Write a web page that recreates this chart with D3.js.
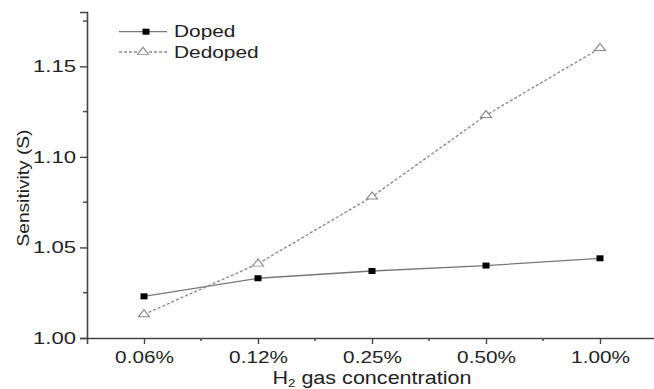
<!DOCTYPE html>
<html>
<head>
<meta charset="utf-8">
<script src="https://cdn.jsdelivr.net/npm/d3@7"></script>
<style>
  body { margin: 0; background: #fff; }
  text { font-family: "Liberation Sans", Arial, sans-serif; fill: #222; }
</style>
</head>
<body>
<div id="chart"></div>
<script>
// values
var categories = ["0.06%", "0.12%", "0.25%", "0.50%", "1.00%"];
var doped = [1.023, 1.033, 1.037, 1.040, 1.044];
var dedoped = [1.013, 1.041, 1.078, 1.123, 1.160];
var yTicks = [1.00, 1.05, 1.10, 1.15];
var yMinor = [1.025, 1.075, 1.125, 1.175];
var xMinor = [1.5, 2.5, 3.5, 4.5];

var width = 654, height = 389;
var axisColor = "#444";

var svg = d3.select("#chart").append("svg")
    .attr("width", width)
    .attr("height", height);

var x = d3.scaleLinear().domain([0.5, 5.5]).range([87, 657]);
var y = d3.scaleLinear().domain([1.00, 1.18]).range([338, 12]);

// stretch text horizontally, the original font is wider than ours
function stretch(sel, f) {
  sel.each(function() {
    var l = this.getComputedTextLength();
    d3.select(this).attr("textLength", l * f).attr("lengthAdjust", "spacingAndGlyphs");
  });
}

// y axis
var yAxis = svg.append("g")
    .attr("transform", "translate(" + x.range()[0] + ",0)")
    .call(d3.axisLeft(y).tickValues(yTicks).tickFormat(d3.format(".2f")).tickSize(7).tickPadding(4));
yAxis.append("g").selectAll("line")
    .data(yMinor)
    .join("line")
    .attr("x1", -4).attr("x2", 0)
    .attr("y1", d => y(d)).attr("y2", d => y(d));

// x axis
var xAxis = svg.append("g")
    .attr("transform", "translate(0," + y.range()[0] + ")")
    .call(d3.axisBottom(x).tickValues([1, 2, 3, 4, 5]).tickFormat(d => categories[d - 1]).tickSize(6).tickPadding(7));
xAxis.append("g").selectAll("line")
    .data(xMinor)
    .join("line")
    .attr("x1", d => x(d)).attr("x2", d => x(d))
    .attr("y1", 0).attr("y2", 3);

[yAxis, xAxis].forEach(function(g) {
  g.select(".domain").attr("stroke", axisColor).attr("stroke-width", 1.6);
  g.selectAll("line").attr("stroke", axisColor).attr("stroke-width", 1.4);
  g.selectAll("text").style("font-size", "17px").attr("fill", "#222")
    .style("font-family", '"Liberation Sans", Arial, sans-serif');
});
yAxis.selectAll(".tick text").call(stretch, 1.3);
xAxis.selectAll(".tick text").call(stretch, 1.22);

// axis titles
var xTitle = svg.append("text")
    .attr("x", 372).attr("y", 384)
    .attr("text-anchor", "middle")
    .style("font-size", "18px");
xTitle.append("tspan").text("H");
xTitle.append("tspan").attr("dy", 3).style("font-size", "11px").text("2");
xTitle.append("tspan").attr("dy", -3).text(" gas concentration");
xTitle.attr("textLength", 199).attr("lengthAdjust", "spacingAndGlyphs");

svg.append("text")
    .attr("transform", "translate(29,188) rotate(-90)")
    .attr("text-anchor", "middle")
    .style("font-size", "17px")
    .attr("textLength", 117).attr("lengthAdjust", "spacingAndGlyphs")
    .text("Sensitivity (S)");

// lines
var line = d3.line()
    .x((d, i) => x(i + 1))
    .y(d => y(d));

svg.append("path")
    .datum(doped)
    .attr("fill", "none")
    .attr("stroke", "#777")
    .attr("stroke-width", 1.3)
    .attr("d", line);

svg.append("path")
    .datum(dedoped)
    .attr("fill", "none")
    .attr("stroke", "#8c8c8c")
    .attr("stroke-width", 1.4)
    .attr("stroke-dasharray", "3,2")
    .attr("d", line);

// markers
var tri = d3.symbol().type(d3.symbolTriangle).size(40);

svg.append("g").selectAll("path")
    .data(dedoped)
    .join("path")
    .attr("transform", (d, i) => "translate(" + x(i + 1) + "," + y(d) + ") scale(1.15,0.85)")
    .attr("d", tri)
    .attr("fill", "#fff")
    .attr("stroke", "#888")
    .attr("stroke-width", 1.1);

svg.append("g").selectAll("rect")
    .data(doped)
    .join("rect")
    .attr("x", (d, i) => x(i + 1) - 3.5)
    .attr("y", d => y(d) - 3)
    .attr("width", 7)
    .attr("height", 6)
    .attr("fill", "#000");

// legend
var legend = svg.append("g");
var names = ["Doped", "Dedoped"];
var ly = [31.7, 52];

legend.append("line")
    .attr("x1", 119).attr("x2", 167).attr("y1", ly[0]).attr("y2", ly[0])
    .attr("stroke", "#777").attr("stroke-width", 1.3);
legend.append("rect")
    .attr("x", 142.5).attr("y", ly[0] - 3).attr("width", 7).attr("height", 6)
    .attr("fill", "#000");

legend.append("line")
    .attr("x1", 119).attr("x2", 167).attr("y1", ly[1]).attr("y2", ly[1])
    .attr("stroke", "#8c8c8c").attr("stroke-width", 1.3).attr("stroke-dasharray", "3,2");
legend.append("path")
    .attr("transform", "translate(143," + ly[1] + ") scale(1.15,0.85)")
    .attr("d", tri)
    .attr("fill", "#fff").attr("stroke", "#888").attr("stroke-width", 1.1);

legend.selectAll("text")
    .data(names)
    .join("text")
    .attr("x", 174)
    .attr("y", (d, i) => ly[i] + 5.6)
    .style("font-size", "16.3px")
    .text(d => d)
    .call(stretch, 1.28);
</script>
</body>
</html>
